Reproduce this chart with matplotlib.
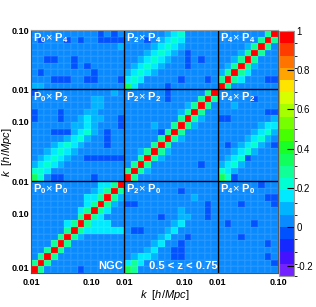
import numpy as np
import matplotlib
matplotlib.use("Agg")
import matplotlib.pyplot as plt
from matplotlib.colors import ListedColormap, BoundaryNorm

plt.rcParams["font.family"] = ["Liberation Sans", "DejaVu Sans"]
plt.rcParams["mathtext.fontset"] = "custom"
plt.rcParams["mathtext.rm"] = "Liberation Sans"
plt.rcParams["mathtext.it"] = "Liberation Sans:italic"
plt.rcParams["mathtext.bf"] = "Liberation Sans:bold"

# ── Data: correlation blocks (top row first) ──
# d: just below 0, b: ~0.03, l: ~0.09, c: ~0.16, a: ~0.22, g: ~0.28, G: ~0.34, R: 1
LEVEL = {"d": -0.03, "b": 0.03, "l": 0.09, "c": 0.16, "a": 0.22,
         "g": 0.28, "G": 0.34, "R": 1.0}

# row P4 (9 k-bins)
p0_p4 = ["bbbbbbbbbbdbdb",
         "bdbbbdbdbbdddd",
         "bbbbbbbbbbbbbl",
         "bbbbbbbbbbbbbb",
         "bbddbbdbbbbbbb",
         "bbbbbbdbdbbbbb",
         "bdbbbbbbbdbbbb",
         "bbbdddbbddbbbd",
         "llbbbbbbbbbbbb"]
p2_p4 = ["bbbbbblcabbbbb",
         "bbbdblcacbbbbb",
         "bbbblcaclbbbbb",
         "bbblcaclbdbbbb",
         "bblcaclbbdbdbb",
         "blcaclbbbdbbbb",
         "lcaclbbbbbbbbb",
         "cacbbbbbdbbbdb",
         "Gcbbbbdbbbbbbb"]
p4_p4 = ["bbbbbbbgR",
         "bbbbbbgRg",
         "bbbblgRgb",
         "bbblgRgbb",
         "bblgRgbbb",
         "blgRglbbb",
         "lgRgcbbbb",
         "gRgcbbbdd",
         "Rgbbbbbbb"]

# row P2 (14 k-bins)
p0_p2 = ["dbbbbbbbbbbblb",
         "bbbbbbbbbllbbb",
         "bbbbbbbbbllbbb",
         "dbbbdbbbllbbbb",
         "dbbbdbblcllbbd",
         "bbbbbbllclbbbd",
         "bbbdddlcalbdbb",
         "bbbbblcalbbdbb",
         "bbblcaclbbbdbb",
         "bblcaclbbbbbbb",
         "blcaclbbdddddd",
         "lcaclbbbbbbbbb",
         "aacbbbbbbbbbbb",
         "Gabddbbbbdbbbb"]
p2_p2 = ["bbbbbbdbbbbbgR",
         "bbbbbbdbbbbgRg",
         "bbbbbbbbblgRgb",
         "bbbbbbbblgRgbb",
         "bbbbbbbbgRglbb",
         "bbbblbbgRglbbb",
         "bbbbbdgRgbbbbb",
         "bbbbbgRglbbbbb",
         "bbbbgRgbbbbbbb",
         "bblgRglbbbbbbb",
         "bbgRglbbbbbbbb",
         "bgRgbbbbbbbdbb",
         "gRglbbbbbbbbbb",
         "Rgbbbbbbbbbbbb"]
p4_p2 = ["bbbbbbbbb",
         "bbbbbdbbb",
         "bblbbbbbb",
         "bbbbbbbdd",
         "ddbbbbbbl",
         "bbbbbblcc",
         "bbbbblcal",
         "bbbblcalb",
         "bdblcalbd",
         "bblcalbbb",
         "blcadbbbb",
         "lcalbbbbb",
         "aclbbbbbb",
         "Gadbbbbbb"]

# row P0 (14 k-bins)
p0_p0 = ["bbbbbbbbbbccgR",
         "bbbbbbbbblcgRg",
         "bbbbbbbbccgRgl",
         "bbbbbbbbcgRglb",
         "bbbbbbbcgRgcbb",
         "bbbbbbbgRgcbbb",
         "bbbbbcgRgcccbb",
         "bbbbbgRgcccccc",
         "bbbbgRglbbbbbb",
         "bbbgRgbbbbbbbb",
         "bbgRgbbbbbbbbb",
         "bgRgbbbbbbbbbb",
         "gRgbbbbbbbbbbb",
         "Rgbbbbbdbbbbbb"]
p2_p0 = ["bbbbbbbbbbbbbb",
         "bbbbbbbbdbbbbb",
         "bbbbbbbbbblbbb",
         "ddbbbbbbbbbbdb",
         "bbbbbbbblbbbdb",
         "bbbbbdbbllbbdb",
         "bbbbbbblcbbbbb",
         "bddbbblcbbbbbb",
         "bbbbblcbbdbbbb",
         "bbbblcbbdbbbbb",
         "bbblcbbddbbbbb",
         "blcclbbddbbbbb",
         "cgcbbbbbbbbbbb",
         "Ggbbbbbbbbbbbb"]
p4_p0 = ["bbbbbbdbb",
         "bbbbbbbbb",
         "bbbbbbbdd",
         "bbbdbbbbd",
         "bbbbbbbbb",
         "bbbbbbbbb",
         "bdbbbdbbb",
         "bbbbbbbbb",
         "bbbdbbbbb",
         "bbbbbbbdb",
         "bbbbbbbbb",
         "bbbbbbbdb",
         "bbbbbbbbd",
         "bbbbbbbbb"]

x_tick_labels = ["0.01", "0.10", "0.01", "0.10", "0.01", "0.10"]
y_tick_labels = ["0.01", "0.10", "0.01", "0.10", "0.01", "0.10"]
block_titles = [["P_0", "P_4"], ["P_2", "P_4"], ["P_4", "P_4"],
                ["P_0", "P_2"], ["P_2", "P_2"], ["P_4", "P_2"],
                ["P_0", "P_0"], ["P_2", "P_0"], ["P_4", "P_0"]]
cbar_ticks = [-0.2, 0, 0.2, 0.4, 0.6, 0.8, 1]
cbar_labels = ["-0.2", "0", "0.2", "0.4", "0.6", "0.8", "1"]

# ── Assemble matrix ─────────────────────────────────────────────
rows = [[p0_p4, p2_p4, p4_p4],
        [p0_p2, p2_p2, p4_p2],
        [p0_p0, p2_p0, p4_p0]]
lines = []
for blocks in rows:
    for i in range(len(blocks[0])):
        lines.append("".join(b[i] for b in blocks))
mat = np.array([[LEVEL[ch] for ch in ln] for ln in lines])[::-1]
n = mat.shape[0]

# ROOT-like rainbow palette, 20 levels between -0.25 and 1
colors = ["#7222ff", "#4412ff", "#1428ff", "#0052ff", "#0a8aff",
          "#00b4ff", "#00eaff", "#00ffd2", "#10ff96", "#10ff5c",
          "#18ff28", "#46ff00", "#76ff00", "#a6ff00", "#d8ff00",
          "#ffe400", "#ffa400", "#ff7400", "#ff3c00", "#ff0000"]
cmap = ListedColormap(colors)
norm = BoundaryNorm(np.linspace(-0.25, 1, 21), cmap.N)

# ── Figure ─────────────────────────────────────────────────────
W, H = 316, 307
fig = plt.figure(figsize=(W / 100, H / 100), dpi=100)
ax = fig.add_axes([31 / W, 1 - 273 / H, 247 / W, 243 / H])

mesh = ax.pcolormesh(np.arange(n + 1), np.arange(n + 1), mat, cmap=cmap, norm=norm,
                     edgecolors=(1, 1, 1, 0.05), linewidth=0.3)
ax.set_xlim(0, n)
ax.set_ylim(0, n)

for e in [14, 28]:
    ax.axvline(e, color="black", lw=1.0)
    ax.axhline(e, color="black", lw=1.0)

tick_pos = [0, 9, 14, 23, 28, 37]
ax.set_xticks(tick_pos)
ax.set_xticklabels(x_tick_labels, fontsize=6.5, fontweight="bold")
ax.set_yticks(tick_pos)
ax.set_yticklabels(y_tick_labels, fontsize=6.5, fontweight="bold")
ax.tick_params(length=0)
ax.tick_params(axis="x", pad=3.5)
ax.tick_params(axis="y", pad=1)
ax.get_yticklabels()[0].set_va("bottom")
for s in ax.spines.values():
    s.set_color("#555555")
    s.set_linewidth(0.8)
ax.spines["top"].set_color("#999999")

# block titles
x0s = [0, 14, 28]
y_tops = [37, 28, 14]
for k, (a, b) in enumerate(block_titles):
    r, c = divmod(k, 3)
    ax.text(x0s[c] + 0.25, y_tops[r] - 0.2,
            r"$\mathbf{%s}$" % a + r"$\times$" + r" $\mathbf{%s}$" % b,
            color="white", fontsize=8, ha="left", va="top")

ax.text(13.8, 0.3, "NGC", color="white", fontsize=8, fontweight="bold",
        ha="right", va="bottom")
ax.text(27.9, 0.3, "0.5 < z < 0.75", color="white", fontsize=8, fontweight="bold",
        ha="right", va="bottom")

fig.text(165 / W, 1 - 295 / H, r"$k$  [$h/Mpc$]", fontsize=8, ha="center", va="center")
fig.text(7 / W, 1 - 152 / H, r"$k$  [$h/Mpc$]", fontsize=8, ha="center", va="center",
         rotation=90)

# colour bar
cax = fig.add_axes([279 / W, 1 - 276 / H, 15 / W, 245 / H])
cb = fig.colorbar(mesh, cax=cax)
cb.set_ticks(cbar_ticks)
cb.set_ticklabels(cbar_labels)
cax.tick_params(direction="in", length=5, width=0.8, labelsize=7, pad=2)
cb.outline.set_edgecolor("#999999")
cb.outline.set_linewidth(0.8)

fig.savefig("out.png", dpi=100)
